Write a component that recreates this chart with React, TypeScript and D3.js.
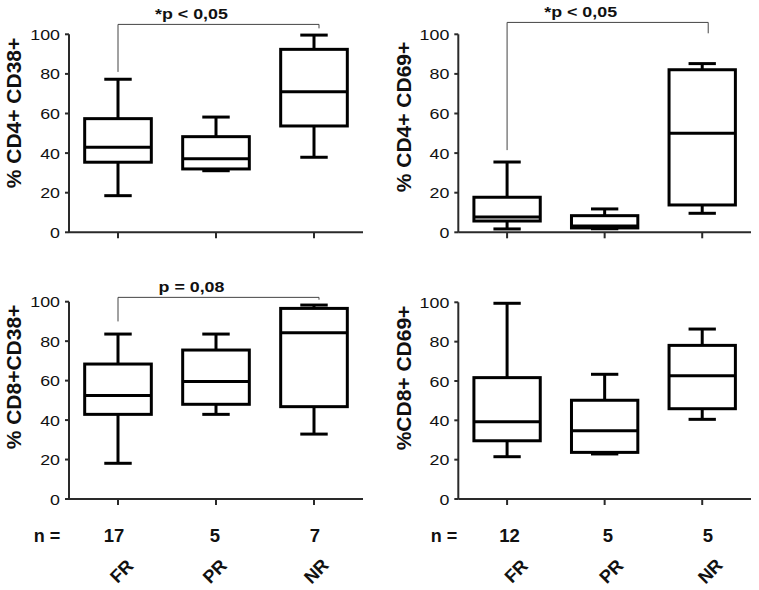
import React from "react";
import * as d3 from "d3";

const categories = ["FR", "PR", "NR"];
const yTicks = [0, 20, 40, 60, 80, 100];
const nLeft = [17, 5, 7];
const nRight = [12, 5, 5];

// [min, q1, median, q3, max]
const cd4cd38 = [
  [18.5, 35.4, 42.9, 57.4, 77.3],
  [31.1, 32.0, 37.2, 48.3, 58.2],
  [37.9, 53.7, 71.0, 92.4, 99.6],
];
const cd4cd69 = [
  [1.7, 5.7, 7.7, 17.7, 35.5],
  [1.8, 2.2, 3.2, 8.4, 11.8],
  [9.6, 13.8, 50.0, 82.1, 85.2],
];
const cd8cd38 = [
  [18.1, 42.9, 52.4, 68.4, 83.6],
  [42.9, 48.0, 59.5, 75.5, 83.6],
  [32.9, 46.8, 84.3, 96.6, 98.3],
];
const cd8cd69 = [
  [21.5, 29.6, 39.3, 61.7, 99.5],
  [22.9, 23.7, 34.7, 50.2, 63.4],
  [40.5, 45.9, 62.7, 78.1, 86.4],
];

const yLabels = ["% CD4+ CD38+", "% CD4+ CD69+", "% CD8+CD38+", "%CD8+ CD69+"];
// bracket: [label, barValue, leftDropValue, rightDropValue]
const brackets: ([string, number, number, number] | null)[] = [
  ["*p < 0,05", 105, 81, 103],
  ["*p < 0,05", 106, 41.5, 100.5],
  ["p = 0,08", 102.2, 90, 101],
  null,
];

const FONT = "'Liberation Sans', Arial, Helvetica, sans-serif";

type PanelCfg = {
  data: number[][];
  x0: number;
  x1: number;
  yb: number;
  yt: number;
  labelX: number;
  labelY: number;
  ylabel: string;
  bracket: [string, number, number, number] | null;
  bracketRightOffset: number;
};

function Panel({ cfg }: { cfg: PanelCfg }) {
  const x = d3.scalePoint<string>().domain(categories).range([cfg.x0, cfg.x1]).padding(0.5);
  const y = d3.scaleLinear().domain([0, 100]).range([cfg.yb, cfg.yt]);
  const step = x.step();
  const boxW = step * 0.68;
  const capW = step * 0.28;
  const axisColor = "#2a2a2a";
  return (
    <g>
      {/* axes */}
      <line x1={cfg.x0} x2={cfg.x0} y1={y(0)} y2={y(100)} stroke={axisColor} strokeWidth={2} />
      <line x1={cfg.x0} x2={cfg.x1} y1={y(0)} y2={y(0)} stroke={axisColor} strokeWidth={2} />
      {yTicks.map((t) => (
        <g key={t}>
          <line x1={cfg.x0 - 4} x2={cfg.x0} y1={y(t)} y2={y(t)} stroke={axisColor} strokeWidth={2} />
          <g transform={`translate(${cfg.x0 - 9},${y(t)}) scale(1.15,1)`}>
            <text dy="0.36em" textAnchor="end" fontSize={15.5} fontFamily={FONT} fill="#111">
              {t}
            </text>
          </g>
        </g>
      ))}
      {categories.map((c) => (
        <line key={c} x1={x(c)!} x2={x(c)!} y1={y(0)} y2={y(0) + 6} stroke={axisColor} strokeWidth={2} />
      ))}
      {/* boxes */}
      {cfg.data.map((d, i) => {
        const cx = x(categories[i])!;
        const [mn, q1, med, q3, mx] = d;
        return (
          <g key={i} stroke="#000" strokeWidth={3} fill="none">
            <line x1={cx} x2={cx} y1={y(mx)} y2={y(q3)} />
            <line x1={cx} x2={cx} y1={y(q1)} y2={y(mn)} />
            <line x1={cx - capW / 2} x2={cx + capW / 2} y1={y(mx)} y2={y(mx)} />
            <line x1={cx - capW / 2} x2={cx + capW / 2} y1={y(mn)} y2={y(mn)} />
            <rect x={cx - boxW / 2} y={y(q3)} width={boxW} height={y(q1) - y(q3)} />
            <line x1={cx - boxW / 2} x2={cx + boxW / 2} y1={y(med)} y2={y(med)} />
          </g>
        );
      })}
      {/* y label */}
      <g transform={`translate(${cfg.labelX},${cfg.labelY}) rotate(-90)`}>
        <text dy="0.36em" textAnchor="middle" fontSize={21} fontWeight="bold" fontFamily={FONT} fill="#111">
          {cfg.ylabel}
        </text>
      </g>
      {/* bracket */}
      {cfg.bracket && (() => {
        const [lab, bar, l, r] = cfg.bracket!;
        const xl = x("FR")!;
        const xr = x("NR")! + cfg.bracketRightOffset;
        return (
          <g>
            <path
              d={`M${xl},${y(l)}V${y(bar)}H${xr}V${y(r)}`}
              fill="none"
              stroke="#444"
              strokeWidth={1}
            />
            <g transform={`translate(${(xl + xr) / 2 - 27},${y(bar) - 5.5}) scale(1.15,1)`}>
              <text textAnchor="middle" fontSize={15.5} fontWeight="bold" fontFamily={FONT} fill="#111">
                {lab}
              </text>
            </g>
          </g>
        );
      })()}
    </g>
  );
}

const panels: PanelCfg[] = [
  { data: cd4cd38, x0: 69, x1: 363, yb: 232.3, yt: 34.3, labelX: 13, labelY: 113, ylabel: yLabels[0], bracket: brackets[0], bracketRightOffset: 5 },
  { data: cd4cd69, x0: 458.3, x1: 751, yb: 232.3, yt: 34.3, labelX: 403, labelY: 117, ylabel: yLabels[1], bracket: brackets[1], bracketRightOffset: 6 },
  { data: cd8cd38, x0: 69, x1: 363, yb: 499, yt: 301.7, labelX: 13, labelY: 377, ylabel: yLabels[2], bracket: brackets[2], bracketRightOffset: 5 },
  { data: cd8cd69, x0: 458.3, x1: 751, yb: 499, yt: 302.3, labelX: 403, labelY: 378, ylabel: yLabels[3], bracket: brackets[3], bracketRightOffset: 0 },
];

const nLabelPos = [
  { nx: 47, nums: [114, 215, 315], cats: [121.5, 214.5, 316], vals: nLeft },
  { nx: 444, nums: [509.5, 608, 708], cats: [516, 611, 710], vals: nRight },
];

export default function App() {
  return (
    <svg
      width={759}
      height={590}
      viewBox="0 0 759 590"
      style={{ position: "absolute", left: 0, top: 0, background: "#fff" }}
    >
      <rect width={759} height={590} fill="#fff" />
      {panels.map((p, i) => (
        <Panel key={i} cfg={p} />
      ))}
      {nLabelPos.map((g, gi) => (
        <g key={gi} fontFamily={FONT} fontWeight="bold" fill="#111">
          <text x={g.nx} y={542} textAnchor="middle" fontSize={18}>
            n =
          </text>
          {g.vals.map((v, i) => (
            <text key={i} x={g.nums[i]} y={542} textAnchor="middle" fontSize={18.5}>
              {v}
            </text>
          ))}
          {categories.map((c, i) => (
            <g key={c} transform={`translate(${g.cats[i]},571) rotate(-45)`}>
              <text dy="0.36em" textAnchor="middle" fontSize={18}>
                {c}
              </text>
            </g>
          ))}
        </g>
      ))}
    </svg>
  );
}
